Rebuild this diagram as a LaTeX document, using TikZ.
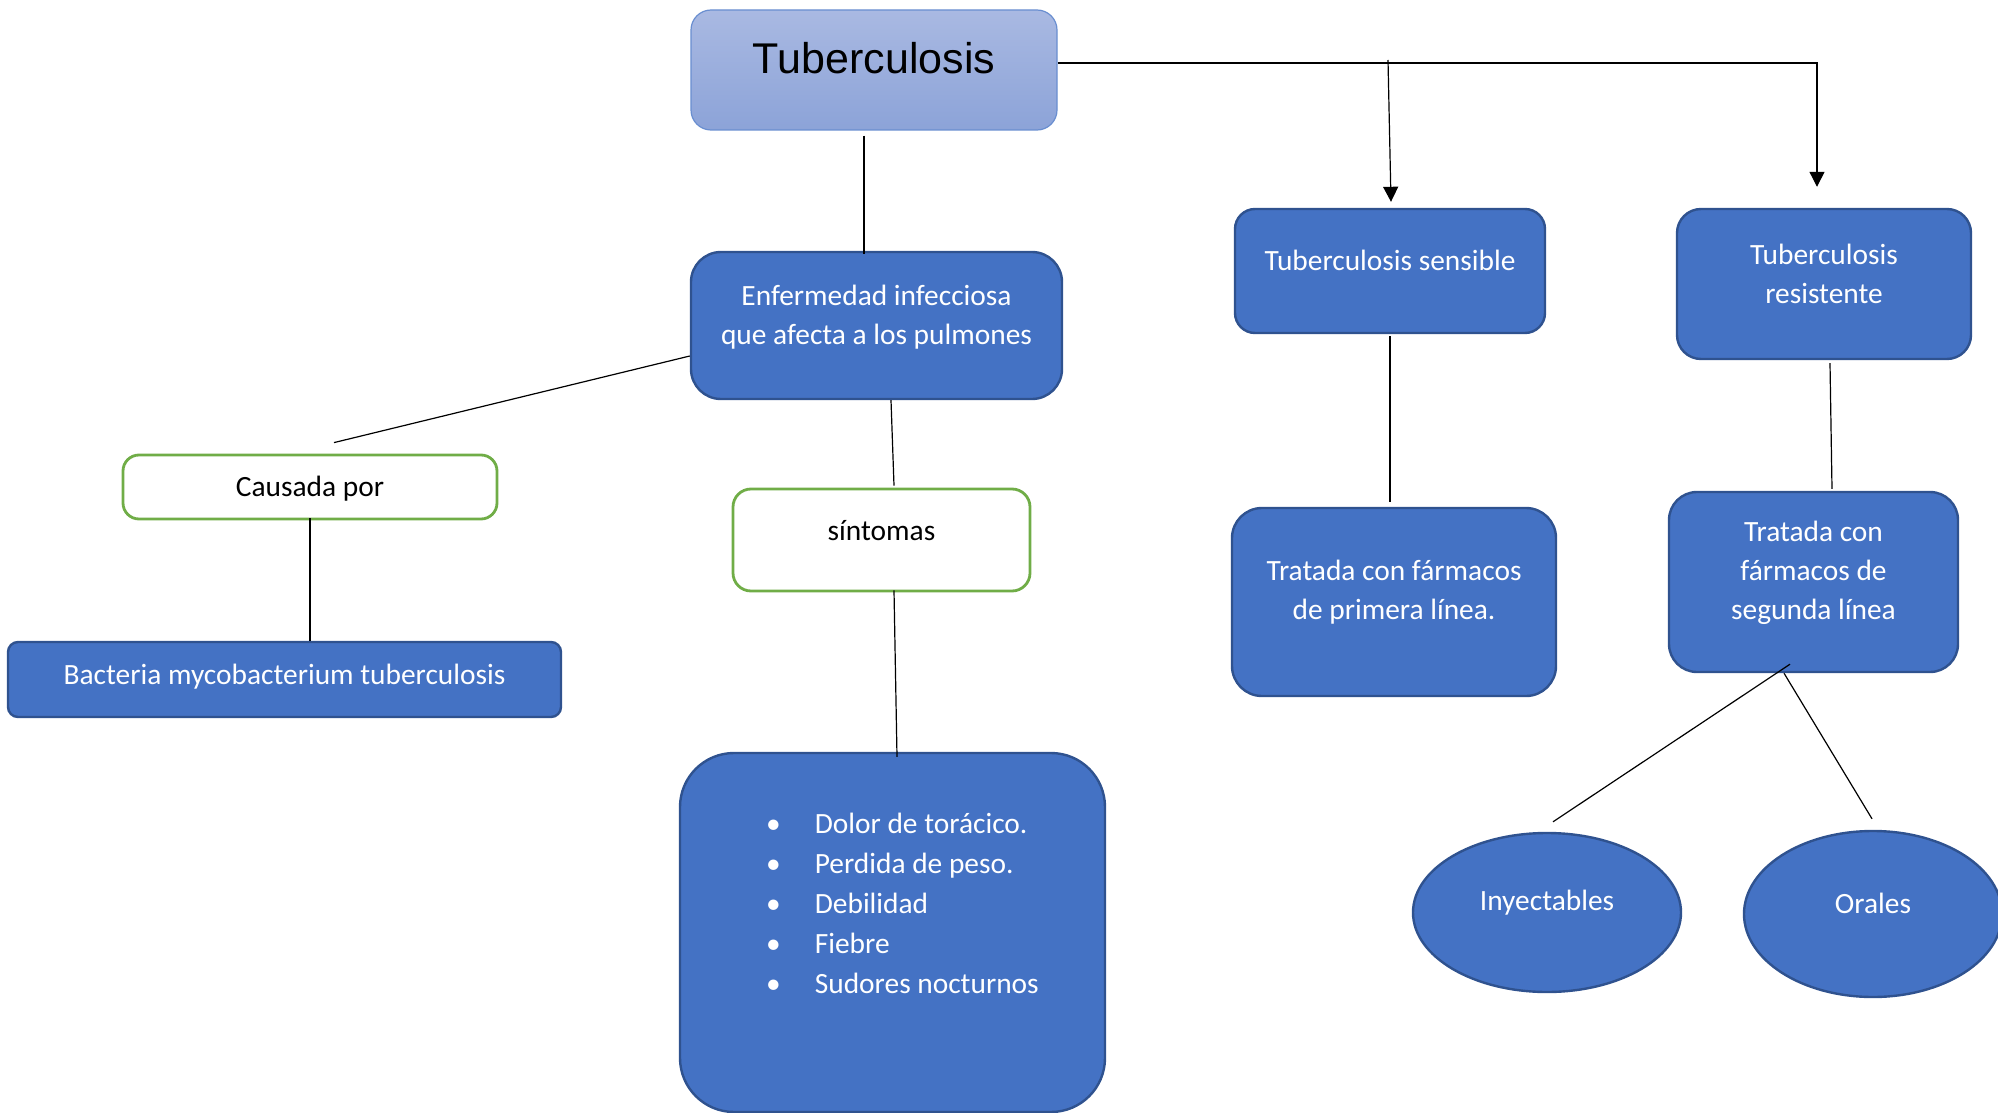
\documentclass[tikz,border=0pt]{standalone}
\usepackage{fontspec}
\setmainfont{Carlito}
\newfontfamily\arialfont{Liberation Sans}
\usetikzlibrary{arrows.meta,shapes.geometric}
\definecolor{azul}{HTML}{4472C4}
\definecolor{azulborde}{HTML}{2F528F}
\definecolor{verde}{HTML}{70AD47}
\definecolor{celesteA}{HTML}{A9B9E2}
\definecolor{celesteB}{HTML}{8CA3D8}

\begin{document}
\begin{tikzpicture}[x=0.5pt,y=-0.5pt,
    caja/.style={draw=azulborde,line width=1.2pt,fill=azul,text=white,align=center,inner sep=0pt,
        font=\fontsize{14.7}{19.5}\selectfont},
    verdecaja/.style={draw=verde,line width=1.4pt,fill=white,inner sep=0pt,rounded corners=8pt,
        font=\fontsize{14.7}{19.5}\selectfont},
    linea/.style={line width=0.6pt},
    flecha/.style={line width=0.6pt,-{Triangle[length=7.5pt,width=7.5pt]}}]
    \useasboundingbox (0,0) rectangle (1998,1113);

    \node[draw=azul!80,line width=0.6pt,rounded corners=10pt,top color=celesteA,bottom color=celesteB,
        minimum width=183pt,minimum height=60pt,inner sep=0pt,text depth=12pt,font=\arialfont\fontsize{21.5}{25}\selectfont]
        (tb) at (874,70) {Tuberculosis};

    \node[caja,rounded corners=15pt,minimum width=185.5pt,minimum height=73.5pt,text depth=11pt]
        (enf) at (876.5,325.5) {Enfermedad infecciosa\\que afecta a los pulmones};
    \node[verdecaja,minimum width=187pt,minimum height=32pt,text depth=0.5pt] (caus) at (310,487) {Causada por};
    \node[caja,rounded corners=5pt,minimum width=276.5pt,minimum height=37.5pt,text depth=5pt]
        (bact) at (284.5,679.5) {Bacteria mycobacterium tuberculosis};
    \node[verdecaja,rounded corners=9pt,minimum width=148.5pt,minimum height=51pt,text depth=10pt]
        (sint) at (881.5,540) {síntomas};
    \node[caja,rounded corners=27pt,minimum width=212.5pt,minimum height=179.5pt,text depth=29pt,align=left,
        font=\fontsize{14.7}{20}\selectfont] (sym) at (892.5,932.5)
        {\hspace*{10pt}•\hspace{17pt}Dolor de torácico.\\
         \hspace*{10pt}•\hspace{17pt}Perdida de peso.\\
         \hspace*{10pt}•\hspace{17pt}Debilidad\\
         \hspace*{10pt}•\hspace{17pt}Fiebre\\
         \hspace*{10pt}•\hspace{17pt}Sudores nocturnos};

    \node[caja,rounded corners=10pt,minimum width=155pt,minimum height=62pt,text depth=11pt]
        (sens) at (1390,271) {Tuberculosis sensible};
    \node[caja,rounded corners=12pt,minimum width=147pt,minimum height=75pt,text depth=10.5pt]
        (resi) at (1824,284) {Tuberculosis\\resistente};
    \node[caja,rounded corners=15pt,minimum width=162pt,minimum height=94pt,text depth=12pt]
        (prim) at (1394,602) {Tratada con fármacos\\de primera línea.};
    \node[caja,rounded corners=14pt,minimum width=144.5pt,minimum height=90pt,text depth=11.5pt]
        (segu) at (1813.5,582) {Tratada con\\fármacos de\\segunda línea};
    \node[caja,ellipse,minimum width=134pt,minimum height=79.5pt,text depth=12pt]
        (iny) at (1547,912.5) {Inyectables};
    \node[caja,ellipse,minimum width=129pt,minimum height=83pt,text depth=11pt]
        (oral) at (1873,914) {Orales};

    \coordinate (split) at (1388,60);

    \draw[linea] ([xshift=-5pt,yshift=-2.5pt]tb.south) -- ([xshift=-6.25pt,yshift=-1.5pt]enf.north);
    \draw[linea] ([yshift=-15.25pt]enf.west) -- ([xshift=12pt,yshift=5.5pt]caus.north);
    \draw[linea] ([yshift=1pt]caus.south) -- (caus.south |- bact.north);
    \draw[linea] ([xshift=7.25pt]enf.south) -- ([xshift=6.25pt,yshift=1pt]sint.north);
    \draw[linea] ([xshift=6.25pt,yshift=1pt]sint.south) -- ([xshift=2.25pt,yshift=-2.5pt]sym.north);
    \draw[flecha] ([yshift=3.5pt]tb.east) -| ([xshift=-3.5pt,yshift=10.5pt]resi.north);
    \draw[flecha] (split) -- ([xshift=0.5pt,yshift=3pt]sens.north);
    \draw[linea] ([yshift=-1pt]sens.south) -- ([xshift=-2pt,yshift=2.5pt]prim.north);
    \draw[linea] ([xshift=3pt,yshift=-1.5pt]resi.south) -- ([xshift=9.25pt,yshift=1pt]segu.north);
    \draw[linea] ([xshift=-11.75pt,yshift=4.5pt]segu.south) -- ([xshift=3pt,yshift=5pt]iny.north);
    \draw[linea] ([xshift=-14.75pt]segu.south) -- ([xshift=-0.5pt,yshift=5.5pt]oral.north);
\end{tikzpicture}
\end{document}
